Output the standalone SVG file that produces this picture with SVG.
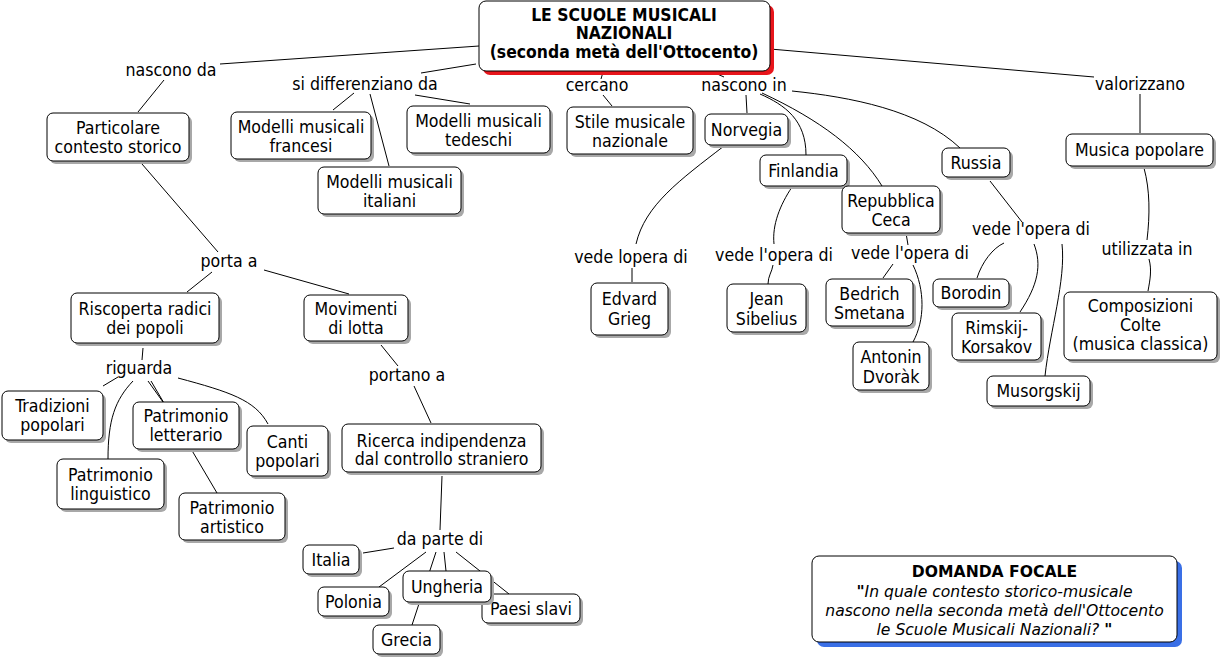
<svg xmlns="http://www.w3.org/2000/svg" width="1223" height="661" viewBox="0 0 1223 661">
<defs>
<style>
.n rect.b{fill:#fff;stroke:#000;stroke-width:1}
.n rect.s{fill:#a8a8a8}
text{font-family:"DejaVu Sans Condensed","DejaVu Sans",sans-serif;font-size:17.6px;fill:#000;text-anchor:middle}
.t{font-weight:bold;font-size:17.4px}
.f{font-family:"DejaVu Sans",sans-serif;font-size:15.6px}
.fi{font-style:italic}
.fb{font-weight:bold}
#connectors path{fill:none;stroke:#000;stroke-width:1}
</style>
</defs>
<rect width="1223" height="661" fill="#fff"/>
<g id="connectors">
<path d="M479,46 L220,64"/>
<path d="M164,80 L138,112"/>
<path d="M476,64 L421,73"/>
<path d="M354,93 L333,110"/>
<path d="M370,94 L389,166"/>
<path d="M415,95 L470,104"/>
<path d="M603,72 L601,79"/>
<path d="M603,95 L612,106"/>
<path d="M715,73 L724,77"/>
<path d="M746,95 L747,113"/>
<path d="M760,94 C785,105 806,120 806,155"/>
<path d="M762,93 C820,120 860,150 882,186"/>
<path d="M792,91 C850,97 920,110 960,148"/>
<path d="M770,49 L1094,77"/>
<path d="M1140,94 L1140,133"/>
<path d="M1144,168 C1150,190 1150,215 1147,240"/>
<path d="M1149,259 C1152,270 1150,280 1148,291"/>
<path d="M724,146 C680,180 645,205 636,244"/>
<path d="M632,268 L632,282"/>
<path d="M792,187 C780,205 772,225 774,244"/>
<path d="M773,265 C772,272 768,276 768,284"/>
<path d="M906,233 L908,245"/>
<path d="M893,264 L883,278"/>
<path d="M913,265 C925,290 925,320 913,342"/>
<path d="M990,181 L1022,222"/>
<path d="M1004,243 C993,248 982,262 977,278"/>
<path d="M1034,244 C1042,265 1038,285 1020,312"/>
<path d="M1062,244 C1066,280 1050,330 1045,376"/>
<path d="M142,164 L218,252"/>
<path d="M212,272 L187,292"/>
<path d="M264,270 L349,294"/>
<path d="M143,348 L142,360"/>
<path d="M118,377 L103,386"/>
<path d="M133,381 C115,400 108,420 108,459"/>
<path d="M148,381 L163,402"/>
<path d="M151,381 L217,493"/>
<path d="M178,378 C230,392 255,400 268,424"/>
<path d="M381,345 L398,366"/>
<path d="M414,386 L431,423"/>
<path d="M442,476 L440,530"/>
<path d="M394,548 L363,553"/>
<path d="M426,552 L379,587"/>
<path d="M436,552 L412,625"/>
<path d="M444,552 L446,571"/>
<path d="M456,552 L509,594"/>
</g>
<g id="labels">
<text x="171" y="76">nascono da</text>
<text x="365" y="90">si differenziano da</text>
<text x="597" y="91">cercano</text>
<text x="744" y="91">nascono in</text>
<text x="1140" y="90">valorizzano</text>
<text x="229" y="267">porta a</text>
<text x="139" y="374">riguarda</text>
<text x="407" y="381">portano a</text>
<text x="440" y="545">da parte di</text>
<text x="631" y="263">vede lopera di</text>
<text x="774" y="261">vede l'opera di</text>
<text x="910" y="259">vede l'opera di</text>
<text x="1031" y="235">vede l'opera di</text>
<text x="1147" y="255">utilizzata in</text>
</g>
<g id="main" class="n">
<rect x="483" y="5" width="291" height="70" rx="7" fill="#e8151b"/>
<rect class="b" x="479" y="1" width="291" height="70" rx="7"/>
<text class="t" x="624" y="21">LE SCUOLE MUSICALI</text>
<text class="t" x="624" y="39">NAZIONALI</text>
<text class="t" x="624" y="58">(seconda metà dell'Ottocento)</text>
</g>
<g id="particolare" class="n"><rect class="s" x="50" y="116" width="142" height="48" rx="6"/><rect class="b" x="47" y="113" width="142" height="48" rx="6"/><text x="118" y="134">Particolare</text><text x="118" y="153">contesto storico</text></g>
<g id="francesi" class="n"><rect class="s" x="234" y="115" width="140" height="47" rx="6"/><rect class="b" x="231" y="112" width="140" height="47" rx="6"/><text x="301" y="133">Modelli musicali</text><text x="301" y="152">francesi</text></g>
<g id="tedeschi" class="n"><rect class="s" x="410" y="109" width="143" height="47" rx="6"/><rect class="b" x="407" y="106" width="143" height="47" rx="6"/><text x="478.5" y="127">Modelli musicali</text><text x="478.5" y="146">tedeschi</text></g>
<g id="italiani" class="n"><rect class="s" x="321" y="170" width="143" height="47" rx="6"/><rect class="b" x="318" y="167" width="143" height="47" rx="6"/><text x="389.5" y="188">Modelli musicali</text><text x="389.5" y="207">italiani</text></g>
<g id="stile" class="n"><rect class="s" x="570" y="110" width="126" height="47" rx="6"/><rect class="b" x="567" y="107" width="126" height="47" rx="6"/><text x="630" y="128">Stile musicale</text><text x="630" y="147">nazionale</text></g>
<g id="norvegia" class="n"><rect class="s" x="708" y="117" width="83" height="31" rx="6"/><rect class="b" x="705" y="114" width="83" height="31" rx="6"/><text x="746.5" y="136">Norvegia</text></g>
<g id="finlandia" class="n"><rect class="s" x="763" y="158" width="87" height="31" rx="6"/><rect class="b" x="760" y="155" width="87" height="31" rx="6"/><text x="803.5" y="177">Finlandia</text></g>
<g id="ceca" class="n"><rect class="s" x="845" y="189" width="98" height="47" rx="6"/><rect class="b" x="842" y="186" width="98" height="47" rx="6"/><text x="891" y="207">Repubblica</text><text x="891" y="226">Ceca</text></g>
<g id="russia" class="n"><rect class="s" x="945" y="151" width="68" height="29" rx="6"/><rect class="b" x="942" y="148" width="68" height="29" rx="6"/><text x="976" y="169">Russia</text></g>
<g id="musicapop" class="n"><rect class="s" x="1069" y="137" width="147" height="32" rx="6"/><rect class="b" x="1066" y="134" width="147" height="32" rx="6"/><text x="1139.5" y="156">Musica popolare</text></g>
<g id="grieg" class="n"><rect class="s" x="594" y="286" width="77" height="52" rx="6"/><rect class="b" x="591" y="283" width="77" height="52" rx="6"/><text x="629.5" y="305">Edvard</text><text x="629.5" y="325">Grieg</text></g>
<g id="sibelius" class="n"><rect class="s" x="730" y="287" width="79" height="48" rx="6"/><rect class="b" x="727" y="284" width="79" height="48" rx="6"/><text x="766.5" y="305">Jean</text><text x="766.5" y="325">Sibelius</text></g>
<g id="smetana" class="n"><rect class="s" x="829" y="282" width="87" height="47" rx="6"/><rect class="b" x="826" y="279" width="87" height="47" rx="6"/><text x="869.5" y="300">Bedrich</text><text x="869.5" y="319">Smetana</text></g>
<g id="dvorak" class="n"><rect class="s" x="856" y="345" width="76" height="48" rx="6"/><rect class="b" x="853" y="342" width="76" height="48" rx="6"/><text x="891" y="363">Antonin</text><text x="891" y="383">Dvoràk</text></g>
<g id="borodin" class="n"><rect class="s" x="936" y="282" width="76" height="28" rx="6"/><rect class="b" x="933" y="279" width="76" height="28" rx="6"/><text x="971" y="299">Borodin</text></g>
<g id="rimskij" class="n"><rect class="s" x="955" y="316" width="89" height="47" rx="6"/><rect class="b" x="952" y="313" width="89" height="47" rx="6"/><text x="996.5" y="334">Rimskij-</text><text x="996.5" y="353">Korsakov</text></g>
<g id="musorgskij" class="n"><rect class="s" x="990" y="379" width="103" height="30" rx="6"/><rect class="b" x="987" y="376" width="103" height="30" rx="6"/><text x="1038.5" y="397">Musorgskij</text></g>
<g id="composizioni" class="n"><rect class="s" x="1067" y="295" width="153" height="68" rx="6"/><rect class="b" x="1064" y="292" width="153" height="68" rx="6"/><text x="1140.5" y="312">Composizioni</text><text x="1140.5" y="331">Colte</text><text x="1140.5" y="350">(musica classica)</text></g>
<g id="riscoperta" class="n"><rect class="s" x="74" y="296" width="148" height="50" rx="6"/><rect class="b" x="71" y="293" width="148" height="50" rx="6"/><text x="145" y="315">Riscoperta radici</text><text x="145" y="334">dei popoli</text></g>
<g id="movimenti" class="n"><rect class="s" x="307" y="298" width="104" height="46" rx="6"/><rect class="b" x="304" y="295" width="104" height="46" rx="6"/><text x="356" y="315">Movimenti</text><text x="356" y="334">di lotta</text></g>
<g id="tradizioni" class="n"><rect class="s" x="5" y="394" width="101" height="49" rx="6"/><rect class="b" x="2" y="391" width="101" height="49" rx="6"/><text x="52.5" y="412">Tradizioni</text><text x="52.5" y="431">popolari</text></g>
<g id="letterario" class="n"><rect class="s" x="136" y="405" width="106" height="47" rx="6"/><rect class="b" x="133" y="402" width="106" height="47" rx="6"/><text x="186" y="422">Patrimonio</text><text x="186" y="441">letterario</text></g>
<g id="canti" class="n"><rect class="s" x="250" y="429" width="81" height="50" rx="6"/><rect class="b" x="247" y="426" width="81" height="50" rx="6"/><text x="287.5" y="448">Canti</text><text x="287.5" y="467">popolari</text></g>
<g id="linguistico" class="n"><rect class="s" x="60" y="462" width="107" height="50" rx="6"/><rect class="b" x="57" y="459" width="107" height="50" rx="6"/><text x="110.5" y="481">Patrimonio</text><text x="110.5" y="500">linguistico</text></g>
<g id="artistico" class="n"><rect class="s" x="182" y="496" width="106" height="47" rx="6"/><rect class="b" x="179" y="493" width="106" height="47" rx="6"/><text x="232" y="514">Patrimonio</text><text x="232" y="533">artistico</text></g>
<g id="ricerca" class="n"><rect class="s" x="345" y="427" width="199" height="48" rx="6"/><rect class="b" x="342" y="424" width="199" height="48" rx="6"/><text x="441.5" y="446.5">Ricerca indipendenza</text><text x="441.5" y="465">dal controllo straniero</text></g>
<g id="italia" class="n"><rect class="s" x="306" y="548" width="56" height="29" rx="6"/><rect class="b" x="303" y="545" width="56" height="29" rx="6"/><text x="331" y="566">Italia</text></g>
<g id="polonia" class="n"><rect class="s" x="321" y="590" width="71" height="29" rx="6"/><rect class="b" x="318" y="587" width="71" height="29" rx="6"/><text x="353.5" y="608">Polonia</text></g>
<g id="paesislavi" class="n"><rect class="s" x="485" y="597" width="98" height="29" rx="6"/><rect class="b" x="482" y="594" width="98" height="29" rx="6"/><text x="531" y="615">Paesi slavi</text></g>
<g id="ungheria" class="n"><rect class="s" x="406" y="574" width="88" height="31" rx="6"/><rect class="b" x="403" y="571" width="88" height="31" rx="6"/><text x="447" y="593">Ungheria</text></g>
<g id="grecia" class="n"><rect class="s" x="376" y="628" width="67" height="29" rx="6"/><rect class="b" x="373" y="625" width="67" height="29" rx="6"/><text x="406.5" y="646">Grecia</text></g>
<g id="focale" class="n">
<rect x="817" y="561" width="365" height="86" rx="7" fill="#3a6fe6"/>
<rect class="b" x="812" y="556" width="365" height="86" rx="7"/>
<text class="f fb" x="994.5" y="577">DOMANDA FOCALE</text>
<text class="f fi" x="994.5" y="597"><tspan font-weight="bold" font-style="normal">"</tspan>In quale contesto storico-musicale</text>
<text class="f fi" x="994.5" y="616">nascono nella seconda metà dell'Ottocento</text>
<text class="f fi" x="994.5" y="635">le Scuole Musicali Nazionali? <tspan font-weight="bold" font-style="normal">"</tspan></text>
</g>
</svg>
